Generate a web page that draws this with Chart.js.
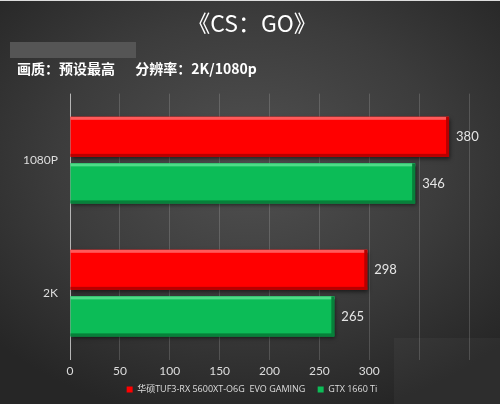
<!DOCTYPE html>
<html lang="zh-CN">
<head>
    <meta charset="UTF-8">
    <title>CS:GO</title>
    <script src="https://cdn.jsdelivr.net/npm/chart.js"></script>
    <style>
        html, body {
            margin: 0;
            padding: 0;
        }
        .wrap {
            position: relative;
            width: 500px;
            height: 404px;
            background: radial-gradient(ellipse 70% 65% at 50% 40%, #515151 0%, #3c3c3c 55%, #262626 100%);
            border-top: 1px solid #ddd;
            box-sizing: border-box;
            overflow: hidden;
        }
        .mask {
            position: absolute;
            left: 10px;
            top: 41px;
            width: 126px;
            height: 16px;
            background: #555;
        }
        .patch {
            position: absolute;
            left: 394px;
            top: 337px;
            right: 0;
            bottom: 0;
            background: rgba(255, 255, 255, 0.035);
        }
        .subtitulo {
            position: absolute;
            left: 17px;
            top: 59px;
            font-family: "Noto Sans CJK SC", sans-serif;
            font-size: 14px;
            line-height: 16px;
            font-weight: bold;
            color: #fff;
            white-space: pre;
            z-index: 2;
        }
        canvas {
            position: absolute;
            left: 0;
            top: 0;
        }
    </style>
</head>
<body>
    <div class="wrap">
        <div class="mask"></div>
        <div class="patch"></div>
        <canvas id="chart" width="500" height="403"></canvas>
        <div class="subtitulo">画质：预设最高　  分辨率：2K/1080p</div>
    </div>
    <script>
        // dados
        const categorias = ['1080P', '2K'];
        const nomeAmd = '华硕TUF3-RX 5600XT-O6G  EVO GAMING';
        const nomeNv = 'GTX 1660 Ti';
        const valoresAmd = [380, 298];
        const valoresNv = [346, 265];

        const coresBase = ['#ff0000', '#0cbc57'];
        const coresClaras = ['#ff5a5a', '#4fdc88'];
        const coresEscuras = ['#b80000', '#07803a'];

        // efeito de relevo nas barras + valores ao lado
        const relevo = {
            id: 'relevo',
            beforeDatasetDraw(chart, args) {
                const ctx = chart.ctx;
                ctx.save();
                ctx.shadowColor = 'rgba(0,0,0,0.55)';
                ctx.shadowBlur = 4;
                ctx.shadowOffsetX = 1;
                ctx.shadowOffsetY = 2;
            },
            afterDatasetDraw(chart, args) {
                const ctx = chart.ctx;
                ctx.restore();
                const i = args.index;
                args.meta.data.forEach(function(bar) {
                    const top = bar.y - bar.height / 2;
                    const bottom = bar.y + bar.height / 2;
                    const left = bar.base;
                    const right = bar.x;
                    ctx.save();
                    ctx.fillStyle = coresClaras[i];
                    ctx.fillRect(left, top, right - left, 3);
                    ctx.fillStyle = coresEscuras[i];
                    ctx.fillRect(left, bottom - 3, right - left, 3);
                    ctx.fillRect(right - 3, top, 3, bottom - top);
                    ctx.restore();
                });
            },
            afterDatasetsDraw(chart) {
                const ctx = chart.ctx;
                ctx.save();
                ctx.fillStyle = '#e6e6e6';
                ctx.font = '13px Lato, sans-serif';
                ctx.textBaseline = 'middle';
                chart.data.datasets.forEach(function(ds, i) {
                    chart.getDatasetMeta(i).data.forEach(function(bar, j) {
                        ctx.fillText(ds.data[j], bar.x + 7, bar.y);
                    });
                });
                ctx.restore();
            }
        };

        new Chart(document.getElementById('chart'), {
            type: 'bar',
            data: {
                labels: categorias,
                datasets: [{
                    label: nomeAmd,
                    data: valoresAmd,
                    backgroundColor: coresBase[0],
                    categoryPercentage: 0.7,
                    barPercentage: 0.86
                }, {
                    label: nomeNv,
                    data: valoresNv,
                    backgroundColor: coresBase[1],
                    categoryPercentage: 0.7,
                    barPercentage: 0.86
                }]
            },
            options: {
                indexAxis: 'y',
                responsive: false,
                animation: false,
                layout: {
                    padding: { left: 17, right: 13, top: 0, bottom: 0 }
                },
                plugins: {
                    title: {
                        display: true,
                        text: '《CS：GO》',
                        color: '#ffffff',
                        font: { family: '"Noto Sans CJK SC", sans-serif', size: 23, weight: 'normal' },
                        padding: { top: 8, bottom: 57 }
                    },
                    legend: {
                        position: 'bottom',
                        labels: {
                            color: '#dddddd',
                            boxWidth: 6,
                            boxHeight: 6,
                            padding: 3,
                            font: { family: '"Open Sans", "Noto Sans CJK SC", sans-serif', size: 9 },
                            generateLabels: function(chart) {
                                const itens = Chart.defaults.plugins.legend.labels.generateLabels(chart);
                                itens[0].text = itens[0].text + '    ';
                                return itens;
                            }
                        }
                    },
                    tooltip: { enabled: false }
                },
                scales: {
                    x: {
                        min: 0,
                        max: 400,
                        ticks: {
                            stepSize: 50,
                            color: '#dddddd',
                            padding: 4,
                            font: { family: 'Lato, sans-serif', size: 12 },
                            callback: function(v) { return v > 300 ? '' : v; }
                        },
                        grid: {
                            drawTicks: false,
                            color: function(c) { return c.tick && c.tick.value === 0 ? '#b5b5b5' : 'rgba(255,255,255,0.16)'; }
                        },
                        border: { display: false }
                    },
                    y: {
                        afterFit: function(s) { s.width = 53; },
                        ticks: {
                            color: '#dddddd',
                            padding: 4,
                            font: { family: 'Lato, sans-serif', size: 12 }
                        },
                        grid: { display: false },
                        border: { display: false }
                    },
                    // espaço vazio à direita, só para o gráfico terminar em 400
                    y2: {
                        axis: 'y',
                        position: 'right',
                        afterFit: function(s) { s.width = 18; },
                        ticks: { display: false },
                        grid: { display: false },
                        border: { display: false }
                    }
                }
            },
            plugins: [relevo]
        });
    </script>
</body>
</html>
